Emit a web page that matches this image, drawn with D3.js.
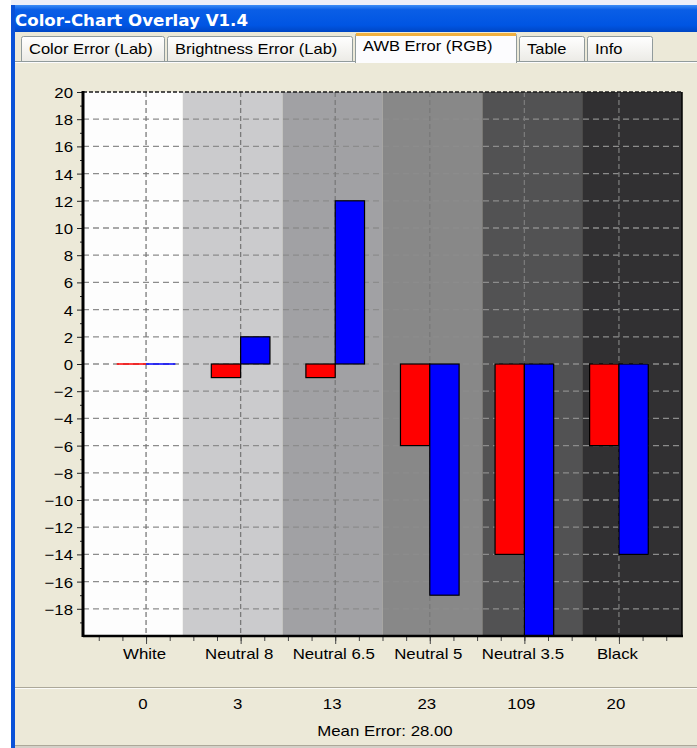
<!DOCTYPE html>
<html><head><meta charset="utf-8">
<script src="https://cdn.jsdelivr.net/npm/d3@7"></script>
<style>
body{margin:0;background:#fff;}
svg{display:block;}
text{font-family:"Liberation Sans",Arial,sans-serif;fill:#000;}
</style>
</head><body>
<svg id="c" width="697" height="748"></svg>
<script>
// ---- data ----
const title = "Color-Chart Overlay V1.4";
const tabLabels = ["Color Error (Lab)", "Brightness Error (Lab)", "AWB Error (RGB)", "Table", "Info"];
const activeTab = 2;
const categories = ["White", "Neutral 8", "Neutral 6.5", "Neutral 5", "Neutral 3.5", "Black"];
const redValues  = [0, -1, -1, -6, -14, -6];
const blueValues = [0,  2, 12, -17, -20, -14];
const errorValues = [0, 3, 13, 23, 109, 20];
const meanError = 28.00;
const yTickValues = d3.range(-18, 21, 2);
const yMinorValues = d3.range(-19, 20, 2);

// ---- layout / style ----
const tabX = [[21,165],[167,353],[355,517],[519,585],[587,653]];
const bandColors = ["#fdfdfd", "#cbcbcd", "#a1a1a4", "#888888", "#525253", "#313032"];
const P = {l: 83, r: 682, t: 92, b: 636};
const STRETCH = 1.12;

const svg = d3.select("#c");
const defs = svg.append("defs");

function stretch(sel, k) {
  sel.each(function() {
    const w = this.getComputedTextLength();
    d3.select(this).attr("textLength", w * k).attr("lengthAdjust", "spacingAndGlyphs");
  });
}

// window background
svg.append("rect").attr("width", 697).attr("height", 748).attr("fill", "#ffffff");
svg.append("rect").attr("x", 11).attr("y", 0).attr("width", 686).attr("height", 5).attr("fill", "#eef0f8");
svg.append("rect").attr("x", 11).attr("y", 5).attr("width", 686).attr("height", 743).attr("fill", "#ece9d8");

// title bar
const tg = defs.append("linearGradient").attr("id", "tb").attr("x1", 0).attr("y1", 0).attr("x2", 0).attr("y2", 1);
tg.append("stop").attr("offset", "0%").attr("stop-color", "#3d8ef6");
tg.append("stop").attr("offset", "18%").attr("stop-color", "#0a5ee6");
tg.append("stop").attr("offset", "75%").attr("stop-color", "#0055e3");
tg.append("stop").attr("offset", "100%").attr("stop-color", "#0046c4");
svg.append("rect").attr("x", 11).attr("y", 5).attr("width", 686).attr("height", 27).attr("fill", "url(#tb)");
svg.append("text").attr("x", 15).attr("y", 26).text(title)
  .style("font-family", "'DejaVu Sans',Verdana,sans-serif").style("font-weight", "bold")
  .style("font-size", "15px").style("fill", "#ffffff")
  .attr("textLength", 233).attr("lengthAdjust", "spacingAndGlyphs");

// left window border
svg.append("rect").attr("x", 11).attr("y", 5).attr("width", 4).attr("height", 743).attr("fill", "#0a52d8");

// tab panel border
svg.append("line").attr("x1", 15).attr("x2", 697).attr("y1", 61.5).attr("y2", 61.5).attr("stroke", "#919b9c");
svg.append("rect").attr("x", 15).attr("y", 62).attr("width", 682).attr("height", 684).attr("fill", "#ece9d8");
svg.append("line").attr("x1", 15).attr("x2", 697).attr("y1", 62.5).attr("y2", 62.5).attr("stroke", "#fcfcfe");

// tabs
const tabGrad = defs.append("linearGradient").attr("id", "tab").attr("x1", 0).attr("y1", 0).attr("x2", 0).attr("y2", 1);
tabGrad.append("stop").attr("offset", "0%").attr("stop-color", "#ffffff");
tabGrad.append("stop").attr("offset", "100%").attr("stop-color", "#ecebe6");
tabLabels.forEach((t, i) => {
  const [x0, x1] = tabX[i];
  const act = i === activeTab;
  const top = act ? 33 : 36;
  const bot = act ? 63 : 61;
  svg.append("path")
    .attr("d", `M${x0+0.5},${bot} V${top+2.5} Q${x0+0.5},${top+0.5} ${x0+2.5},${top+0.5} H${x1-2.5} Q${x1-0.5},${top+0.5} ${x1-0.5},${top+2.5} V${bot}`)
    .attr("fill", act ? "#fcfcfe" : "url(#tab)").attr("stroke", "#919b9c");
  if (act) {
    svg.append("rect").attr("x", x0 + 1).attr("y", top).attr("width", x1 - x0 - 2).attr("height", 3).attr("fill", "#f0b040");
  }
  const tx = svg.append("text").attr("x", x0 + 8).attr("y", act ? 51 : 54).text(t).style("font-size", "15px");
  stretch(tx, 1.1);
});

// ---- chart ----
const x = d3.scaleLinear().domain([-2/3, 5 + 2/3]).range([P.l, P.r]);
const y = d3.scaleLinear().domain([-20, 20]).range([P.b, P.t]);
const band = d3.scaleBand().domain(categories).range([P.l, P.r]).padding(0);

const plot = svg.append("g");
defs.append("clipPath").attr("id", "pc").append("rect")
  .attr("x", P.l).attr("y", P.t).attr("width", P.r - P.l).attr("height", P.b - P.t);

// background patches
plot.selectAll("rect.band").data(categories).join("rect").attr("class", "band")
  .attr("x", d => band(d)).attr("y", P.t).attr("width", band.bandwidth()).attr("height", P.b - P.t)
  .attr("fill", (d, i) => bandColors[i]);

// grid
plot.selectAll("line.hg").data(yTickValues.filter(v => v < 20)).join("line").attr("class", "hg")
  .attr("x1", P.l).attr("x2", P.r).attr("y1", d => y(d)).attr("y2", d => y(d))
  .attr("stroke", "#8c8c8c").attr("stroke-width", 1.3).attr("stroke-dasharray", "6,4");
plot.selectAll("line.vg").data(categories).join("line").attr("class", "vg")
  .attr("x1", (d, i) => x(i)).attr("x2", (d, i) => x(i)).attr("y1", P.t).attr("y2", P.b)
  .attr("stroke", "#7a7a7a").attr("stroke-width", 1.3).attr("stroke-dasharray", "5,3");

// bars
const barW = 0.31;
const bars = plot.append("g").attr("clip-path", "url(#pc)");
function drawBars(vals, color, off) {
  vals.forEach((v, i) => {
    const x0 = x(i + off), x1 = x(i + off + barW);
    if (v === 0) {
      bars.append("rect").attr("x", x0).attr("y", y(0) - 0.75).attr("width", x1 - x0).attr("height", 1.5).attr("fill", color);
    } else {
      bars.append("rect").attr("x", x0).attr("y", y(Math.max(v, 0))).attr("width", x1 - x0)
        .attr("height", Math.abs(y(v) - y(0))).attr("fill", color).attr("stroke", "#000").attr("stroke-width", 1.2);
    }
  });
}
drawBars(redValues, "#ff0000", -barW);
drawBars(blueValues, "#0000ff", 0);

// axes
const yAxis = svg.append("g").attr("transform", `translate(${P.l},0)`)
  .call(d3.axisLeft(y).tickValues(yTickValues).tickSize(6).tickPadding(4).tickFormat(d3.format("d")));
yAxis.select(".domain").remove();
yAxis.selectAll("text").style("font-size", "15px").attr("dy", "0.36em");
stretch(yAxis.selectAll("text"), STRETCH);
yAxis.selectAll("line").attr("stroke", "#222");
const yMinor = svg.append("g").attr("transform", `translate(${P.l},0)`)
  .call(d3.axisLeft(y).tickValues(yMinorValues).tickSize(3).tickFormat(""));
yMinor.select(".domain").remove();
yMinor.selectAll("line").attr("stroke", "#222");

const xMinor = svg.append("g").attr("transform", `translate(0,${P.b})`)
  .call(d3.axisBottom(x).tickValues(d3.range(-0.5, 5.51, 0.25)).tickSize(5).tickFormat(""));
xMinor.select(".domain").remove();
xMinor.selectAll("line").attr("stroke", "#444");
const xAxis = svg.append("g").attr("transform", `translate(0,${P.b})`)
  .call(d3.axisBottom(x).tickValues(d3.range(0, 6)).tickSize(8).tickPadding(4).tickFormat(i => categories[i]));
xAxis.select(".domain").remove();
xAxis.selectAll("line").attr("stroke", "#444");
xAxis.selectAll("text").style("font-size", "15px").attr("x", -2);
stretch(xAxis.selectAll("text"), STRETCH);

// frame
svg.append("line").attr("x1", P.l).attr("x2", P.r).attr("y1", P.t).attr("y2", P.t)
  .attr("stroke", "#1a1a1a").attr("stroke-width", 1.5).attr("stroke-dasharray", "4,2");
svg.append("line").attr("x1", P.r).attr("x2", P.r).attr("y1", P.t).attr("y2", P.b)
  .attr("stroke", "#000").attr("stroke-width", 1.5);
svg.append("line").attr("x1", P.l).attr("x2", P.r + 1).attr("y1", P.b).attr("y2", P.b)
  .attr("stroke", "#000").attr("stroke-width", 2.5);
svg.append("line").attr("x1", P.l).attr("x2", P.l).attr("y1", P.t - 1).attr("y2", P.b + 1)
  .attr("stroke", "#000").attr("stroke-width", 3);

// bottom info area
svg.append("line").attr("x1", 15).attr("x2", 697).attr("y1", 687.5).attr("y2", 687.5).attr("stroke", "#aca899");
svg.append("line").attr("x1", 15).attr("x2", 697).attr("y1", 688.5).attr("y2", 688.5).attr("stroke", "#fbfbf8");
const ev = svg.append("g").selectAll("text").data(errorValues).join("text")
  .attr("x", (d, i) => x(i) - 3).attr("y", 709).attr("text-anchor", "middle")
  .style("font-size", "15px").text(d => d);
stretch(ev, STRETCH);
const me = svg.append("text").attr("x", 385).attr("y", 736).attr("text-anchor", "middle")
  .style("font-size", "15px").text("Mean Error: " + meanError.toFixed(2));
stretch(me, STRETCH);
svg.append("line").attr("x1", 15).attr("x2", 697).attr("y1", 745.5).attr("y2", 745.5).attr("stroke", "#aca899");
svg.append("rect").attr("x", 15).attr("y", 746).attr("width", 682).attr("height", 2).attr("fill", "#d4d0c8");
</script>
</body></html>
